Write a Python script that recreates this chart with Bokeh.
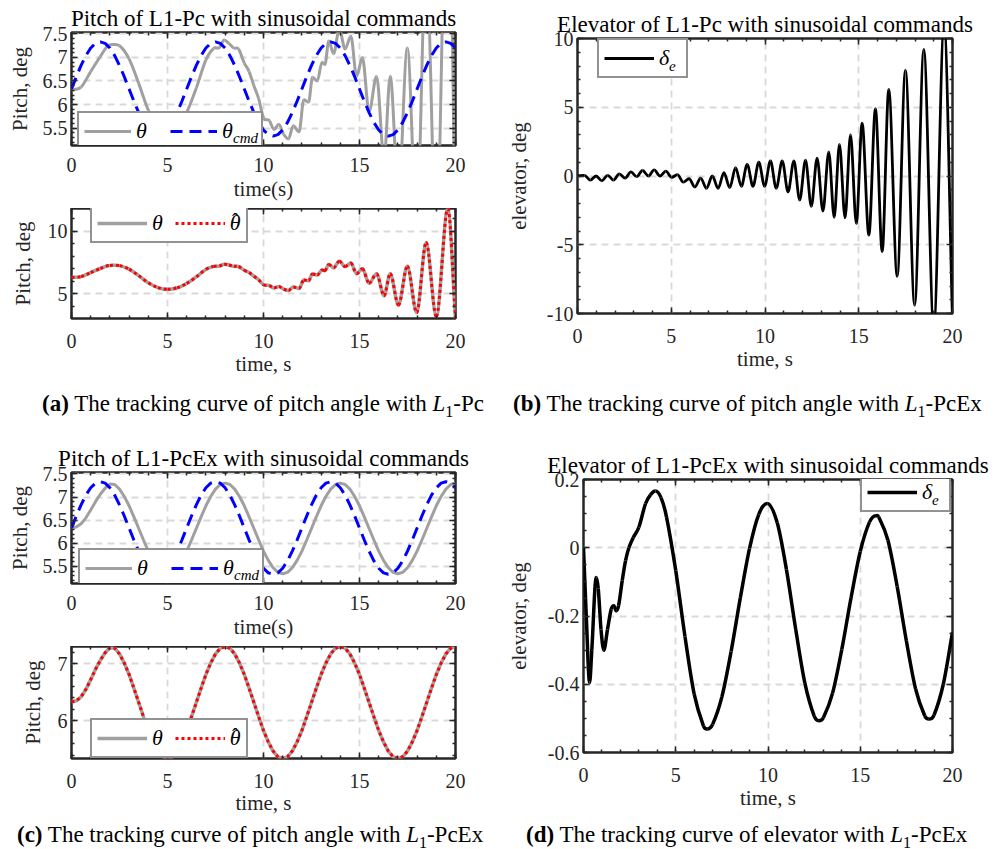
import numpy as np
from bokeh.plotting import figure
from bokeh.models import (Range1d, LinearAxis, FixedTicker, CustomJSTickFormatter,
                          Legend, LegendItem, Title, Div)
from bokeh.layouts import column, row
from bokeh.embed import file_html
from bokeh.resources import INLINE

# ------------------------------------------------------------------ data
# sample times (s) of the smooth sinusoidal signals
t_q = [i * 0.25 for i in range(81)]

# pitch command (deg), same in both controllers
theta_cmd = [6.33, 6.59, 6.83, 7.04, 7.20, 7.30, 7.33, 7.30, 7.20, 7.04, 6.83, 6.59,
             6.33, 6.07, 5.83, 5.62, 5.46, 5.36, 5.33, 5.36, 5.46, 5.62, 5.83, 6.07,
             6.33, 6.59, 6.83, 7.04, 7.20, 7.30, 7.33, 7.30, 7.20, 7.04, 6.83, 6.59,
             6.33, 6.07, 5.83, 5.62, 5.46, 5.36, 5.33, 5.36, 5.46, 5.62, 5.83, 6.07,
             6.33, 6.59, 6.83, 7.04, 7.20, 7.30, 7.33, 7.30, 7.20, 7.04, 6.83, 6.59,
             6.33, 6.07, 5.83, 5.62, 5.46, 5.36, 5.33, 5.36, 5.46, 5.62, 5.83, 6.07,
             6.33, 6.59, 6.83, 7.04, 7.20, 7.30, 7.33, 7.30, 7.20]

# pitch with L1-PcEx (deg); the estimate coincides with it
theta_ex = [6.33, 6.35, 6.42, 6.55, 6.72, 6.90, 7.06, 7.19, 7.28,
            7.27, 7.17, 7.01, 6.81, 6.57, 6.32, 6.07, 5.83, 5.63, 5.47, 5.37, 5.34, 5.37,
            5.47, 5.63, 5.83, 6.07,
            6.32, 6.57, 6.81, 7.01, 7.17, 7.27, 7.30, 7.27, 7.17, 7.01, 6.81, 6.57,
            6.32, 6.07, 5.83, 5.63, 5.47, 5.37, 5.34, 5.37, 5.47, 5.63, 5.83, 6.07,
            6.32, 6.57, 6.81, 7.01, 7.17, 7.27, 7.30, 7.27, 7.17, 7.01, 6.81, 6.57,
            6.32, 6.07, 5.83, 5.63, 5.47, 5.37, 5.34, 5.37, 5.47, 5.63, 5.83, 6.07,
            6.32, 6.57, 6.81, 7.01, 7.17, 7.27, 7.30]
theta_hat_ex = list(theta_ex)

# pitch with L1-Pc (deg)
t_pc = [0.0, 0.5, 1.0, 1.5, 2.0, 2.5, 3.0, 3.5, 4.0, 4.5, 5.0, 5.5, 6.0, 6.5, 7.0,
        7.4, 7.7, 7.95, 8.2, 8.45, 8.7, 9.0, 9.25, 9.5, 9.75, 10.0, 10.3, 10.55, 10.8,
        11.05, 11.3, 11.55, 11.85, 12.1, 12.35, 12.55, 12.8, 13.05, 13.2, 13.4, 13.65,
        13.95, 14.25, 14.55, 14.85, 15.15, 15.5, 15.89, 16.28, 16.6, 17.03, 17.49,
        17.98, 18.47, 19.0, 19.6, 20.0]
theta_pc = [6.31, 6.37, 6.70, 7.02, 7.27, 7.25, 6.97, 6.45, 5.88, 5.50, 5.36, 5.48,
            5.83, 6.35, 6.95, 7.19, 7.21, 7.37, 7.30, 7.20, 7.18, 6.88, 6.70, 6.40,
            6.12, 5.72, 5.66, 5.47, 5.58, 5.37, 5.27, 5.55, 5.42, 6.10, 6.05, 6.58,
            6.50, 6.90, 6.85, 7.35, 7.08, 7.60, 7.18, 7.45, 6.60, 7.00, 5.85, 6.60,
            4.85, 6.60, 4.10, 7.20, 3.50, 9.10, 3.20, 11.81, 3.03]
theta_hat_pc = list(theta_pc)

# elevator with L1-Pc (deg)
t_de_pc = [0.0, 0.37, 0.68, 0.99, 1.3, 1.61, 1.92, 2.23, 2.54, 2.85, 3.16, 3.47, 3.78,
           4.09, 4.4, 4.71, 5.02, 5.33, 5.64, 5.95, 6.26, 6.57, 6.88, 7.19, 7.5, 7.81,
           8.12, 8.43, 8.74, 9.05, 9.36, 9.67, 9.98, 10.29, 10.6, 10.92, 11.23, 11.54,
           11.85, 12.16, 12.47, 12.78, 13.09, 13.4, 13.69, 13.97, 14.27, 14.56, 14.87,
           15.18, 15.54, 15.89, 16.25, 16.6, 17.05, 17.49, 17.98, 18.47, 19.0, 19.55, 20.0]
de_pc = [0.0, 0.05, -0.30, 0.0, -0.35, 0.05, -0.30, 0.15, -0.15, 0.30, -0.05, 0.40,
         0.0, 0.45, 0.0, 0.35, -0.10, 0.10, -0.45, -0.20, -0.80, -0.15, -0.90, 0.0,
         -0.90, 0.25, -0.85, 0.60, -0.75, 0.85, -0.75, 1.00, -0.75, 1.10, -0.90, 1.10,
         -1.15, 1.10, -1.75, 1.15, -2.20, 1.30, -2.55, 1.75, -3.00, 2.30, -3.05, 3.00,
         -3.45, 3.85, -4.30, 4.90, -5.50, 6.30, -7.30, 7.70, -9.40, 9.20, -11.0, 11.0,
         -10.5]

# elevator with L1-PcEx (deg)
t_de_ex = [0.0, 0.15, 0.33, 0.45, 0.69, 0.8, 0.95, 1.1, 1.3, 1.5, 1.65, 1.77, 1.9, 2.1,
           2.28, 2.46, 2.7, 3.0, 3.36, 3.63, 3.9, 4.2, 4.5, 5.0, 5.5, 6.0, 6.5, 6.7, 7.0,
           7.5, 8.0, 8.5, 9.0, 9.5, 9.96, 10.5, 11.0, 11.5, 12.0, 12.5, 12.76, 13.0,
           13.5, 14.0, 14.5, 15.0, 15.5, 15.85, 16.0, 16.5, 17.0, 17.5, 18.0, 18.5,
           18.72, 19.0, 19.5, 20.0]
de_ex = [0.0, -0.20, -0.395, -0.30, -0.087, -0.12, -0.24, -0.30, -0.24, -0.18, -0.17,
         -0.185, -0.17, -0.096, -0.038, 0.0, 0.03, 0.06, 0.129, 0.155, 0.166, 0.147,
         0.09, -0.067, -0.26, -0.429, -0.522, -0.531, -0.517, -0.437, -0.304, -0.147,
         -0.002, 0.098, 0.13, 0.073, -0.064, -0.238, -0.397, -0.493, -0.507, -0.498,
         -0.426, -0.298, -0.147, -0.011, 0.075, 0.094, 0.09, 0.022, -0.113, -0.273,
         -0.414, -0.493, -0.502, -0.49, -0.40, -0.248]

# axes ticks and texts
X_TICKS = [0, 5, 10, 15, 20]
Y_TICKS_PITCH = [5.5, 6, 6.5, 7, 7.5]
Y_TICKS_PITCH_PC = [5, 10]
Y_TICKS_ELEV_PC = [-10, -5, 0, 5, 10]
Y_TICKS_PITCH_EX = [6, 7]
Y_TICKS_ELEV_EX = [-0.6, -0.4, -0.2, 0, 0.2]

TITLE_A = "Pitch of L1-Pc with sinusoidal commands"
TITLE_B = "Elevator of L1-Pc with sinusoidal commands"
TITLE_C = "Pitch of L1-PcEx with sinusoidal commands"
TITLE_D = "Elevator of L1-PcEx with sinusoidal commands"

CAP_A = ("(a)", "The tracking curve of pitch angle with", "-Pc")
CAP_B = ("(b)", "The tracking curve of pitch angle with", "-PcEx")
CAP_C = ("(c)", "The tracking curve of pitch angle with", "-PcEx")
CAP_D = ("(d)", "The tracking curve of elevator with", "-PcEx")

# ------------------------------------------------------------------ style
SERIF = "Liberation Serif"
INK = "#262626"
BLACK = "#000000"
GRAY = "#a0a0a0"
BLUE = "#0000ff"
RED = "#ff0000"
GRID = "#d9d9d9"
FMT = "return String(Math.round(tick*1000)/1000);"

X_MINOR = list(range(0, 21))


def style_axis(ax, ticker, code, label_size="20px"):
    ax.ticker = ticker
    ax.formatter = CustomJSTickFormatter(code=code)
    ax.axis_line_color = None
    ax.major_tick_in = 6
    ax.major_tick_out = 0
    ax.minor_tick_in = 3
    ax.minor_tick_out = 0
    ax.major_tick_line_color = INK
    ax.minor_tick_line_color = INK
    ax.major_tick_line_width = 1.5
    ax.minor_tick_line_width = 1.5
    ax.major_label_text_font = SERIF
    ax.major_label_text_font_size = label_size
    ax.major_label_text_color = INK
    ax.axis_label_text_font = SERIF
    ax.axis_label_text_font_size = "21px"
    ax.axis_label_text_font_style = "normal"
    ax.axis_label_text_color = INK


def make_panel(w, h, borders, yrange, yticks, yminor, xlabel, ylabel,
               ylab_standoff=8, title=None, xstand=(15, 1)):
    left, right, top, bottom = borders
    p = figure(width=w, height=h, title=None, output_backend="svg",
               toolbar_location=None, x_range=Range1d(0, 20),
               y_range=Range1d(yrange[0], yrange[1]),
               min_border_left=left, min_border_right=right,
               min_border_top=top, min_border_bottom=bottom)
    p.background_fill_color = "white"
    p.border_fill_color = "white"
    p.outline_line_color = INK
    p.outline_line_width = 2.5
    p.outline_line_alpha = 1.0
    xt = FixedTicker(ticks=X_TICKS, minor_ticks=X_MINOR)
    yt = FixedTicker(ticks=yticks, minor_ticks=yminor)
    xa = p.xaxis[0]
    ya = p.yaxis[0]
    style_axis(xa, xt, FMT)
    style_axis(ya, yt, FMT)
    xa.axis_label = xlabel
    ya.axis_label = ylabel
    xa.major_label_standoff = xstand[0]
    xa.axis_label_standoff = xstand[1]
    ya.major_label_standoff = 4
    ya.axis_label_standoff = ylab_standoff
    p.xgrid[0].ticker = xt
    p.ygrid[0].ticker = yt
    for g in (p.xgrid[0], p.ygrid[0]):
        g.grid_line_color = GRID
        g.grid_line_width = 1.8
        g.grid_line_dash = "7 5"
    # mirrored inward ticks on the top and right edges of the box
    top_ax = LinearAxis()
    style_axis(top_ax, xt, "return '';", "1px")
    top_ax.major_label_standoff = 0
    p.add_layout(top_ax, "above")
    right_ax = LinearAxis()
    style_axis(right_ax, yt, "return '';", "1px")
    right_ax.major_label_standoff = 0
    p.add_layout(right_ax, "right")
    if title:
        p.add_layout(Title(text=title, align="center", text_font=SERIF,
                           text_font_size="23px", text_font_style="normal",
                           text_color=BLACK, standoff=3), "above")
    return p


def smooth_curve(p, t, y, **kw):
    """Smooth curve through the read points (cubic Bezier pieces with flat tangents
    at the read extrema); returns a hidden line of the same style for the legend."""
    ta = np.asarray(t, dtype=float)
    ya = np.asarray(y, dtype=float)
    n = len(ta)
    m = np.zeros(n)
    for i in range(n):
        if i == 0:
            m[i] = (ya[1] - ya[0]) / (ta[1] - ta[0])
        elif i == n - 1:
            m[i] = (ya[-1] - ya[-2]) / (ta[-1] - ta[-2])
        else:
            d0 = ya[i] - ya[i - 1]
            d1 = ya[i + 1] - ya[i]
            m[i] = 0.0 if d0 * d1 <= 0 else (ya[i + 1] - ya[i - 1]) / (ta[i + 1] - ta[i - 1])
    hh = ta[1:] - ta[:-1]
    p.bezier(x0=ta[:-1], y0=ya[:-1], x1=ta[1:], y1=ya[1:],
             cx0=ta[:-1] + hh / 3, cy0=ya[:-1] + m[:-1] * hh / 3,
             cx1=ta[1:] - hh / 3, cy1=ya[1:] - m[1:] * hh / 3, **kw)
    return p.line(t, y, visible=False, **kw)


def add_legend(p, items, loc, glyph_w=50, label_w=0, spacing=12):
    leg = Legend(items=[LegendItem(label=lab, renderers=[r]) for lab, r in items],
                 location=loc, orientation="horizontal",
                 label_text_font=SERIF, label_text_font_style="italic",
                 label_text_font_size="22px", label_text_color=BLACK,
                 glyph_width=glyph_w, glyph_height=20, label_height=20,
                 label_width=label_w, label_standoff=5, spacing=spacing,
                 padding=5, margin=0,
                 border_line_color=INK, border_line_width=2,
                 background_fill_color="white", background_fill_alpha=1.0)
    p.add_layout(leg)


def add_mark(p, text, loc, ghost, size="15px", style="italic"):
    """Sub- or superscript of a legend entry, drawn as a frameless legend on top."""
    leg = Legend(items=[LegendItem(label=text, renderers=[ghost])],
                 location=loc, orientation="horizontal",
                 label_text_font=SERIF, label_text_font_style=style,
                 label_text_font_size=size, label_text_color=BLACK,
                 glyph_width=0, glyph_height=1, label_height=1, label_width=0,
                 label_standoff=0, spacing=0, padding=0, margin=0,
                 border_line_color=None, background_fill_color=None,
                 background_fill_alpha=0.0)
    p.add_layout(leg)


def caption(cap, pad, height):
    tag, body, tail = cap
    html = ('<div style="font-family:\'Liberation Serif\',serif;font-size:23px;'
            'color:#000;white-space:nowrap;line-height:%dpx;padding-left:%dpx;">'
            '<b>%s</b> %s <i>L</i><sub style="font-size:16px;line-height:0;">1</sub>%s</div>'
            % (height - 3, pad, tag, body, tail))
    return Div(text=html, width=500, height=height, margin=(0, 0, 0, 0))


pitch_minor = [round(5.2 + 0.1 * i, 2) for i in range(24)]
ex_minor = [round(5.4 + 0.2 * i, 2) for i in range(10)]
elev_ex_minor = [round(-0.6 + 0.05 * i, 2) for i in range(17)]

HAT = "\u02c6"

# ---------------- (a) top
a1 = make_panel(500, 208, (71, 45, 32, 63), (5.13, 7.53), Y_TICKS_PITCH, pitch_minor,
                "time(s)", "Pitch, deg", ylab_standoff=8, title=TITLE_A, xstand=(12, 2))
r1 = smooth_curve(a1, t_pc, theta_pc, line_color=GRAY, line_width=3)
r2 = a1.line(t_q, theta_cmd, line_color=BLUE, line_width=3, line_dash="12 7")
g = a1.line(t_q, theta_cmd, line_alpha=0, visible=False)
add_legend(a1, [("θ", r1), ("θ", r2)], (6, -6), glyph_w=47, label_w=34, spacing=0)
add_mark(a1, "cmd", (162, -2), g)

# ---------------- (a) bottom
a2 = make_panel(500, 182, (71, 45, 0, 72), (3.03, 11.81), Y_TICKS_PITCH_PC,
                list(range(4, 12)), "time, s", "Pitch, deg", ylab_standoff=10)
r1 = smooth_curve(a2, t_pc, theta_pc, line_color=GRAY, line_width=3.5)
r2 = smooth_curve(a2, t_pc, theta_hat_pc, line_color=RED, line_width=3, line_dash="3 3")
g = a2.line(t_pc, theta_hat_pc, line_alpha=0, visible=False)
add_legend(a2, [("θ", r1), ("θ", r2)], (19, 75))
add_mark(a2, HAT, (161, 85), g, size="20px", style="normal")

# ---------------- (b)
b = make_panel(500, 390, (77, 48, 38, 77), (-10, 10), Y_TICKS_ELEV_PC,
               list(range(-10, 11)), "time, s", "elevator, deg", ylab_standoff=13,
               title=TITLE_B)
rb = smooth_curve(b, t_de_pc, de_pc, line_color=BLACK, line_width=2.8)
g = b.line(t_de_pc, de_pc, line_alpha=0, visible=False)
add_legend(b, [("δ", rb)], (20, 235), label_w=22)
add_mark(b, "e", (92, 238), g)

# ---------------- (c) top
c1 = make_panel(500, 226, (71, 45, 52, 63), (5.13, 7.53), Y_TICKS_PITCH, pitch_minor,
                "time(s)", "Pitch, deg", ylab_standoff=8, title=TITLE_C, xstand=(12, 2))
r1 = c1.line(t_q, theta_ex, line_color=GRAY, line_width=3)
r2 = c1.line(t_q, theta_cmd, line_color=BLUE, line_width=3, line_dash="12 7")
g = c1.line(t_q, theta_cmd, line_alpha=0, visible=False)
add_legend(c1, [("θ", r1), ("θ", r2)], (7, -5), glyph_w=47, label_w=34, spacing=0)
add_mark(c1, "cmd", (163, -1), g)

# ---------------- (c) bottom
c2 = make_panel(500, 177, (71, 45, 0, 65), (5.34, 7.30), Y_TICKS_PITCH_EX, ex_minor,
                "time, s", "Pitch, deg", ylab_standoff=10, xstand=(15, 0))
r1 = c2.line(t_q, theta_ex, line_color=GRAY, line_width=3.5)
r2 = c2.line(t_q, theta_hat_ex, line_color=RED, line_width=3, line_dash="3 3")
g = c2.line(t_q, theta_hat_ex, line_alpha=0, visible=False)
add_legend(c2, [("θ", r1), ("θ", r2)], (19, 0))
add_mark(c2, HAT, (161, 10), g, size="20px", style="normal")

# ---------------- (d)
d = make_panel(500, 403, (83, 48, 59, 71), (-0.6, 0.2), Y_TICKS_ELEV_EX, elev_ex_minor,
               "time, s", "elevator, deg", ylab_standoff=14, title=TITLE_D)
rd = smooth_curve(d, t_de_ex, de_ex, line_color=BLACK, line_width=3.5)
g = d.line(t_de_ex, de_ex, line_alpha=0, visible=False)
add_legend(d, [("δ", rd)], (277, 240), label_w=22)
add_mark(d, "e", (349, 243), g)

cap_row1 = row(caption(CAP_A, 42, 30), caption(CAP_B, 13, 30))
cap_row2 = row(caption(CAP_C, 17, 26), caption(CAP_D, 26, 26))

layout = column(row(column(a1, a2), b), cap_row1,
                row(column(c1, c2), d), cap_row2)

open("out.html", "w").write(file_html(layout, INLINE))
